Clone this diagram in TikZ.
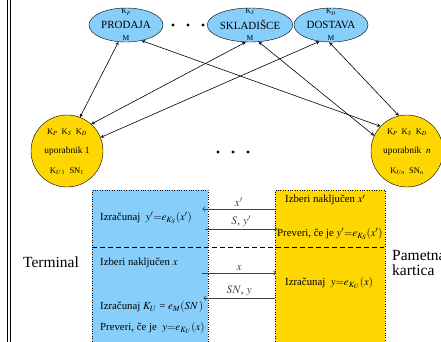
\documentclass[tikz,border=0pt]{standalone}
\usepackage{mathptmx}
\usepackage{fontspec}
\setmainfont{Liberation Serif}
\usetikzlibrary{arrows,shapes.geometric}
\definecolor{skyblue}{RGB}{135,206,250}
\definecolor{gold}{RGB}{255,215,0}
\tikzset{
  server/.style={ellipse,draw,fill=skyblue,minimum width=74pt,minimum height=34pt,inner sep=0pt,font=\fontsize{11}{13}\selectfont},
  user/.style={circle,draw,fill=gold,minimum size=72pt,inner sep=0pt,font=\fontsize{9.4}{11}\selectfont},
  key/.style={inner sep=0pt,font=\fontsize{7.5}{9}\selectfont},
  ukey/.style={inner sep=0pt,font=\fontsize{8.5}{10}\selectfont},
  side/.style={draw,dotted,anchor=north west,minimum height=160pt,inner sep=0pt},
  boxtext/.style={anchor=west,inner sep=0pt,font=\fontsize{10.8}{13}\selectfont},
  link/.style={<->,line width=0.6pt},
  msg/.style={-to,line width=0.8pt,black!75},
  msglabel/.style={inner sep=1.5pt,font=\fontsize{11.5}{13}\selectfont}
}
\begin{document}
\begin{tikzpicture}[x=1pt,y=1pt,>=stealth]
    \useasboundingbox (0,0) rectangle (441,341);
    \clip (0,0) rectangle (441,341);
    %Okvir levo
    \draw[line width=0.8pt] (7,-5)--(7,346) (10.5,-5)--(10.5,346);
    %Streznik
    \node[server] (prodaja) at (126,316) {PRODAJA};
    \node[server] (skladisce) at (250,316) {SKLADIŠCE};
    \node[server] (dostava) at (331,316) {DOSTAVA};
    \node[key] (kprodaja) at ([yshift=13pt]prodaja.center) {K$_P$};
    \node[key] (mprodaja) at ([yshift=-13pt]prodaja.center) {M};
    \node[key] (kskladisce) at ([yshift=13pt]skladisce.center) {K$_S$};
    \node[key] (mskladisce) at ([yshift=-13pt]skladisce.center) {M};
    \node[key] (kdostava) at ([yshift=13pt]dostava.center) {K$_D$};
    \node[key] (mdostava) at ([yshift=-13pt]dostava.center) {M};
    \foreach \x in {173,188,203} \fill (\x,316) circle (1.6);
    %Uporabniki
    \node[user] (user1) at (67,190) {uporabnik 1};
    \node[ukey] (keys1) at ([yshift=19pt]user1.center) {K$_P$\enspace K$_S$\enspace K$_D$};
    \node[ukey] (sn1) at ([yshift=-20pt]user1.center) {K$_{U\,1}$\enspace SN$_1$};
    \node[user] (usern) at (407,190) {uporabnik\enspace $n$};
    \node[ukey] (keysn) at ([yshift=19pt]usern.center) {K$_P$\enspace K$_S$\enspace K$_D$};
    \node[ukey] (snn) at ([yshift=-20pt]usern.center) {K$_{Un}$\enspace SN$_n$};
    \foreach \x in {218,233,248} \fill (\x,189) circle (1.6);
    %Povezave
    \draw[link] (prodaja.246) -- (user1.69);
    \draw[link] (prodaja.315) -- (usern.137);
    \draw[link] (skladisce.256) -- (user1.48);
    \draw[link] (skladisce.297) -- (usern.155);
    \draw[link] (dostava.235) -- (user1.22);
    \draw[link] (dostava.264) -- (usern.103);
    %Terminal in kartica
    \node[side,fill=skyblue,minimum width=116pt] (terminal) at (92,151) {};
    \node[side,fill=gold,minimum width=110pt] (card) at (275,151) {};
    \node[boxtext] (tcompute) at (100,123) {Izračunaj\enspace $y'{=}e_{K_S}(x')$};
    \node[boxtext] (tchoose) at (100,78) {Izberi naključen $x$};
    \node[boxtext] (tkey) at (100,34) {Izračunaj $K_U$ = $e_M(SN\,)$};
    \node[boxtext] (tcheck) at (100,13) {Preveri, če je\enspace $y{=}e_{K_U}(x)$};
    \node[boxtext] (cchoose) at (285,141) {Izberi naključen $x'$};
    \node[boxtext] (ccheck) at (277,107) {Preveri, če je $y'{=}e_{K_S}(x')$};
    \node[boxtext] (ccompute) at (285,58) {Izračunaj\enspace $y{=}e_{K_U}(x)$};
    %Sporocila
    \draw[msg] ([yshift=-19pt]card.north west) -- ([yshift=-19pt,xshift=-6pt]terminal.north east)
        node[midway,above,msglabel]{$x'$};
    \draw[msg] ([yshift=-39pt,xshift=-3pt]terminal.north east) -- ([yshift=-39pt,xshift=2pt]card.north west)
        node[midway,above,msglabel]{$S$, $y'$};
    \draw[dashed,dash pattern=on 5pt off 3pt,line width=0.6pt] ([yshift=-57pt]terminal.north west) -- ([yshift=-57pt,xshift=-1pt]card.north east);
    \draw[msg] ([yshift=-83pt,xshift=-6pt]terminal.north east) -- ([yshift=-83pt,xshift=1pt]card.north west)
        node[midway,above,msglabel]{$x$};
    \draw[msg] ([yshift=-108pt]card.north west) -- ([yshift=-108pt,xshift=-5pt]terminal.north east)
        node[midway,above,msglabel]{$SN$, $y$};
    %Oznake
    \node[font=\fontsize{15.5}{18}\selectfont] (termlabel) at (51,79) {Terminal};
    \node[anchor=west,align=left,inner sep=0pt,font=\fontsize{15.5}{15}\selectfont] (cardlabel) at (392,78.5) {Pametna\\kartica};
\end{tikzpicture}
\end{document}
